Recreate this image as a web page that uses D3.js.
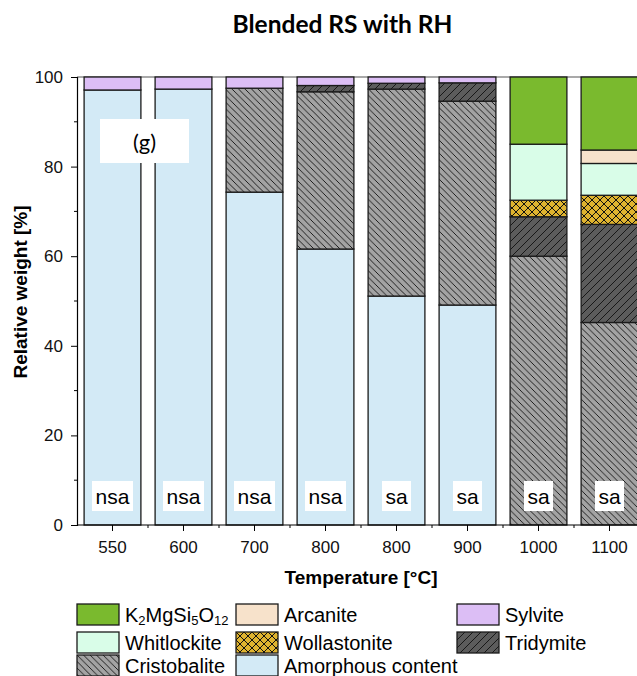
<!DOCTYPE html>
<html>
<head>
<meta charset="utf-8">
<script src="https://cdn.jsdelivr.net/npm/d3@7"></script>
<style>
  body { margin: 0; background: #fff; }
  svg { display: block; font-family: "Liberation Sans", Arial, sans-serif; }
</style>
</head>
<body>
<svg width="637" height="676"></svg>
<script>
// temperatures (two samples at 800)
const categories = ["550", "600", "700", "800", "800", "900", "1000", "1100"];
const sinterLabels = ["nsa", "nsa", "nsa", "nsa", "sa", "sa", "sa", "sa"];

// phase weights, bottom to top of each bar
const amorphous    = [97.1, 97.3, 74.3, 61.6, 51.1, 49.1, 0, 0];
const cristobalite = [0, 0, 23.2, 35.1, 46.2, 45.5, 60.0, 45.2];
const tridymite    = [0, 0, 0, 1.4, 1.3, 4.1, 8.8, 21.9];
const wollastonite = [0, 0, 0, 0, 0, 0, 3.7, 6.5];
const whitlockite  = [0, 0, 0, 0, 0, 0, 12.5, 7.1];
const arcanite     = [0, 0, 0, 0, 0, 0, 0, 3.0];
const k2mgsi5o12   = [0, 0, 0, 0, 0, 0, 15.0, 16.3];
const sylvite      = [2.9, 2.7, 2.5, 1.9, 1.4, 1.3, 0, 0];

const yTicks = [0, 20, 40, 60, 80, 100];

const series = [
  { key: "amorphous", name: "Amorphous content", values: amorphous, fill: "#d3eaf6" },
  { key: "cristobalite", name: "Cristobalite", values: cristobalite, fill: "url(#hatchBack)" },
  { key: "tridymite", name: "Tridymite", values: tridymite, fill: "url(#hatchFwd)" },
  { key: "wollastonite", name: "Wollastonite", values: wollastonite, fill: "url(#cross)" },
  { key: "whitlockite", name: "Whitlockite", values: whitlockite, fill: "#d9fde8" },
  { key: "arcanite", name: "Arcanite", values: arcanite, fill: "#f7e2cb" },
  { key: "k2", name: "K2MgSi5O12", values: k2mgsi5o12, fill: "#7aba2e" },
  { key: "sylvite", name: "Sylvite", values: sylvite, fill: "#dcbef5" }
];

const svg = d3.select("svg");
const plotLeft = 77, plotTop = 77, plotBottom = 525, plotRight = 645;

// patterns
const defs = svg.append("defs");
const back = defs.append("pattern").attr("id", "hatchBack")
  .attr("patternUnits", "userSpaceOnUse").attr("width", 6.5).attr("height", 6.5);
back.append("rect").attr("width", 6.5).attr("height", 6.5).attr("fill", "#a3a3a3");
back.append("path").attr("d", "M0,0L6.5,6.5M-1,5.5L1,7.5M5.5,-1L7.5,1")
  .attr("stroke", "#111").attr("stroke-width", 0.9);

const fwd = defs.append("pattern").attr("id", "hatchFwd")
  .attr("patternUnits", "userSpaceOnUse").attr("width", 8).attr("height", 8);
fwd.append("rect").attr("width", 8).attr("height", 8).attr("fill", "#5c5c5c");
fwd.append("path").attr("d", "M0,8L8,0M-1,1L1,-1M7,9L9,7")
  .attr("stroke", "#111").attr("stroke-width", 0.9);

const cross = defs.append("pattern").attr("id", "cross")
  .attr("patternUnits", "userSpaceOnUse").attr("width", 8).attr("height", 8);
cross.append("rect").attr("width", 8).attr("height", 8).attr("fill", "#dfb32f");
cross.append("path").attr("d", "M0,0L8,8M0,8L8,0M-1,7L1,9M7,-1L9,1M-1,1L1,-1M7,9L9,7")
  .attr("stroke", "#111").attr("stroke-width", 1);

const x = d3.scaleBand().domain(d3.range(categories.length))
  .range([plotLeft, plotRight]).paddingInner(0.2).paddingOuter(0.1);
const y = d3.scaleLinear().domain([0, 100]).range([plotBottom, plotTop]);

// stacked data
const rows = categories.map((c, i) => {
  const r = { i };
  series.forEach(s => r[s.key] = s.values[i]);
  return r;
});
const stacked = d3.stack().keys(series.map(s => s.key))(rows);

// top frame line
svg.append("line").attr("x1", plotLeft).attr("x2", 637).attr("y1", plotTop).attr("y2", plotTop)
  .attr("stroke", "#555").attr("stroke-width", 1.2);

svg.append("g").selectAll("g").data(stacked).join("g")
  .attr("fill", (d, k) => series[k].fill)
  .selectAll("rect").data(d => d.filter(p => p[1] - p[0] > 0)).join("rect")
  .attr("x", d => x(d.data.i))
  .attr("width", x.bandwidth())
  .attr("y", d => y(d[1]))
  .attr("height", d => y(d[0]) - y(d[1]))
  .attr("stroke", "#1a1a1a").attr("stroke-width", 1.3);

// nsa / sa labels
const lab = svg.append("g").selectAll("g").data(sinterLabels).join("g")
  .attr("transform", (d, i) => `translate(${x(i) + x.bandwidth() / 2},496)`);
lab.append("rect")
  .attr("x", d => d === "nsa" ? -20.5 : -14.5)
  .attr("width", d => d === "nsa" ? 41 : 29)
  .attr("y", -15).attr("height", 30).attr("fill", "#fff");
lab.append("text").attr("text-anchor", "middle").attr("dy", "0.36em")
  .attr("font-size", 21).text(d => d);

// (g) panel tag
svg.append("rect").attr("x", 100).attr("y", 119).attr("width", 89).attr("height", 44).attr("fill", "#fff");
svg.append("text").attr("x", 144.5).attr("y", 142).attr("dy", "0.35em").attr("text-anchor", "middle")
  .attr("font-family", "Lato, 'Open Sans', sans-serif").attr("font-size", 22).text("(g)");

// y axis
const yAxis = svg.append("g").attr("transform", `translate(${plotLeft},0)`)
  .call(d3.axisLeft(y).tickValues(yTicks).tickSize(6).tickPadding(8));
yAxis.append("g").selectAll("line").data([10, 30, 50, 70, 90]).join("line")
  .attr("x1", -3).attr("x2", 0).attr("y1", d => y(d)).attr("y2", d => y(d))
  .attr("stroke", "#000");
yAxis.selectAll("text").attr("font-size", 17).attr("font-family", "Liberation Sans, Arial, sans-serif").attr("fill", "#111");
yAxis.select(".domain").attr("stroke-width", 1.2);

// x axis
const xAxis = svg.append("g").attr("transform", `translate(0,${plotBottom})`)
  .call(d3.axisBottom(x).tickFormat(i => categories[i]).tickSize(6).tickPadding(10));
xAxis.select(".domain").attr("d", `M${plotLeft},0H${plotRight}`).attr("stroke-width", 1.2);
xAxis.selectAll("text").attr("font-size", 17).attr("font-family", "Liberation Sans, Arial, sans-serif").attr("fill", "#111");
xAxis.append("g").selectAll("line").data(d3.range(1, categories.length)).join("line")
  .attr("x1", i => plotLeft + x.step() * i).attr("x2", i => plotLeft + x.step() * i)
  .attr("y1", 0).attr("y2", 3).attr("stroke", "#000");

// titles
svg.append("text").attr("x", 342.5).attr("y", 33).attr("text-anchor", "middle")
  .attr("font-family", "Lato, 'Open Sans', sans-serif").attr("font-weight", "bold")
  .attr("font-size", 24.5).text("Blended RS with RH");
svg.append("text").attr("x", 361).attr("y", 577).attr("dy", "0.35em").attr("text-anchor", "middle")
  .attr("font-weight", "bold").attr("font-size", 19).text("Temperature [°C]");
svg.append("text").attr("transform", "translate(20,292) rotate(-90)").attr("dy", "0.35em")
  .attr("text-anchor", "middle").attr("font-weight", "bold").attr("font-size", 19)
  .text("Relative weight [%]");

// legend
const legendOrder = [
  ["k2", 0, 0], ["arcanite", 1, 0], ["sylvite", 2, 0],
  ["whitlockite", 0, 1], ["wollastonite", 1, 1], ["tridymite", 2, 1],
  ["cristobalite", 0, 2], ["amorphous", 1, 2]
];
const colX = [77, 236, 457];
const rowY = [604, 632, 655];
const leg = svg.append("g").selectAll("g").data(legendOrder).join("g")
  .attr("transform", d => `translate(${colX[d[1]]},${rowY[d[2]]})`);
leg.append("rect").attr("width", 42).attr("height", 21)
  .attr("fill", d => series.find(s => s.key === d[0]).fill)
  .attr("stroke", "#1a1a1a").attr("stroke-width", 1.3);
const lt = leg.append("text").attr("x", 48).attr("y", 10.5).attr("dy", "0.36em").attr("font-size", 20);
lt.each(function (d) {
  const t = d3.select(this);
  if (d[0] === "k2") {
    [["K", 0], ["2", 1], ["MgSi", 0], ["5", 1], ["O", 0], ["12", 1]].forEach(([s, sub]) => {
      const ts = t.append("tspan").text(s);
      if (sub) ts.attr("font-size", 13).attr("baseline-shift", "-25%");
    });
  } else {
    t.text(series.find(s => s.key === d[0]).name);
  }
});
</script>
</body>
</html>
